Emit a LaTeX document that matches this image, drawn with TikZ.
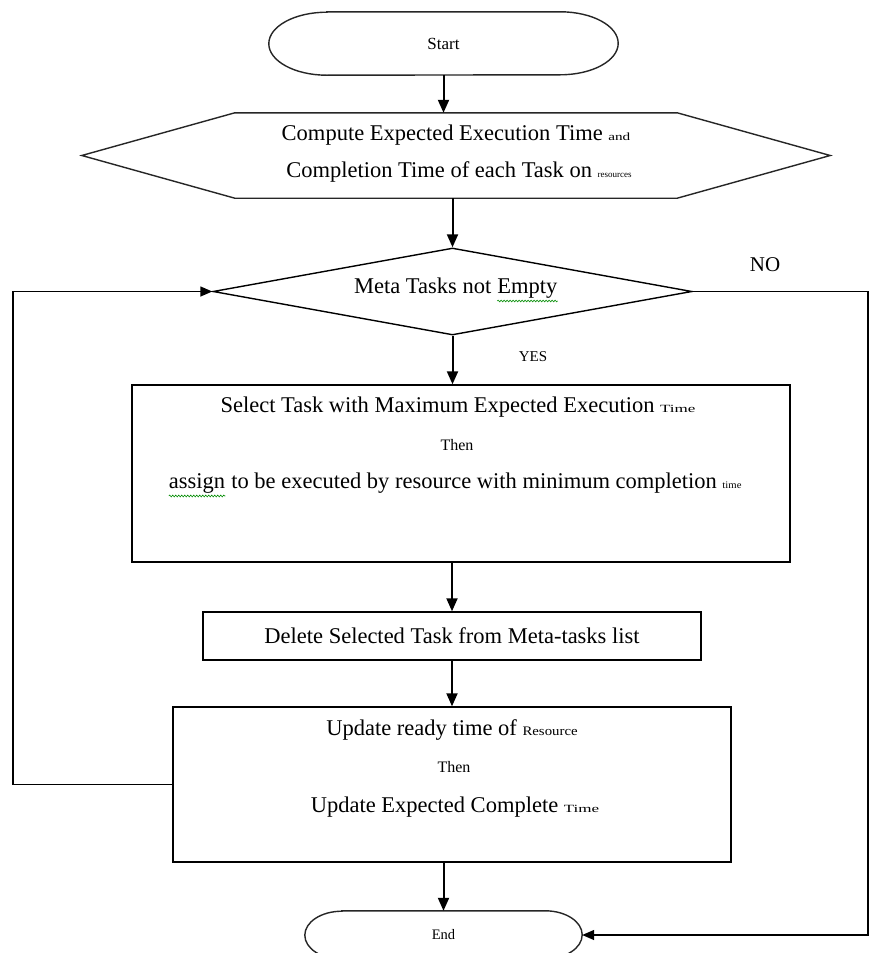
\documentclass[tikz,border=0pt]{standalone}
\usepackage{fontspec}
\setmainfont{Liberation Serif}
\usetikzlibrary{arrows.meta,shapes.geometric,calc,decorations.pathmorphing}
\newcommand\mainsize{\fontsize{22.5}{26}\selectfont}
\newcommand\sw[3]{\scalebox{#2}[1]{\fontsize{#1}{#1}\selectfont #3}}
\newcommand\squig[1]{\tikz[baseline=(sqw.base)]{\node[inner sep=0pt,font=\mainsize](sqw){#1};\draw[squiggle] ([yshift=-2.5pt]sqw.south west) -- ([yshift=-2.5pt]sqw.south east);}}
\begin{document}
\begin{tikzpicture}[x=1pt,y=-1pt,
  shp/.style={line width=1.4pt, draw=black!85},
  arr/.style={line width=2pt, -{Triangle[length=13pt,width=11pt]}},
  conn/.style={line width=1.4pt, -{Triangle[length=12pt,width=10pt]}},
  txt/.style={inner sep=0pt, font=\mainsize},
  boxn/.style={draw, line width=1.4pt, inner sep=0pt},
  squiggle/.style={green!55!black, line width=0.6pt, decorate, decoration={snake, amplitude=0.9pt, segment length=3pt}}]
\useasboundingbox (0,0) rectangle (870,953);
\fill[white] (0,0) rectangle (870,953);

% Start
\node[inner sep=0pt, minimum width=349pt, minimum height=63pt, font=\fontsize{17}{17}\selectfont] (start) at (443.5,43.5) {Start};
\draw[shp] ($(start.north west)+(58,0)$) -- ($(start.north east)+(-58,0)$) arc[start angle=-90,end angle=90,x radius=58,y radius=31.5] -- ($(start.south west)+(58,0)$) arc[start angle=90,end angle=270,x radius=58,y radius=31.5] -- cycle;

% Hexagon
\node[inner sep=0pt, minimum width=442pt, minimum height=85pt] (hex) at (456,155.5) {};
\draw[shp] (hex.north west) -- (hex.north east) -- ($(hex.east)+(153,0)$) -- (hex.south east) -- (hex.south west) -- ($(hex.west)+(-153,0)$) -- cycle;
\node[txt] (hext1) at (456,135) {Compute Expected Execution Time \sw{11}{1.38}{and}};
\node[txt] (hext2) at (459,172) {Completion Time of each Task on \sw{9}{1.0}{resources}};

% Decision
\node[draw, shape=diamond, aspect=5.5, line width=1.4pt, inner sep=0pt, minimum width=479pt, minimum height=87pt] (dia) at (452.5,291.5) {};
\node[txt] (diat) at (456,290) {Meta Tasks not \squig{Empty}};
\node[inner sep=0pt, font=\fontsize{21}{21}\selectfont] (no) at (765,265) {NO};
\node[inner sep=0pt, font=\fontsize{15}{15}\selectfont] (yes) at (533,357) {YES};

% Box 1
\node[boxn, minimum width=658pt, minimum height=177pt] (b1) at (461,473.5) {};
\node[txt] (b1t1) at (458,407) {Select Task with Maximum Expected Execution \sw{11}{1.55}{Time}};
\node[txt] (b1t2) at (457,445) {\sw{16}{1}{Then}};
\node[txt] (b1t3) at (455,485) {\squig{assign} to be executed by resource with minimum completion \sw{10}{1.07}{time}};

% Box 2
\node[boxn, minimum width=498pt, minimum height=48pt] (b2) at (452,636) {};
\node[txt] (b2t) at (452,636) {Delete Selected Task from Meta-tasks list};

% Box 3
\node[boxn, minimum width=558pt, minimum height=155pt] (b3) at (452,784.5) {};
\node[txt] (b3t1) at (452,730) {Update ready time of \sw{13}{1.14}{Resource}};
\node[txt] (b3t2) at (454,767) {\sw{16}{1}{Then}};
\node[txt] (b3t3) at (455,807) {Update Expected Complete \sw{11}{1.55}{Time}};

% End
\node[inner sep=0pt, minimum width=277pt, minimum height=48pt, font=\fontsize{14.5}{14.5}\selectfont] (end) at (443.5,935) {End};
\draw[shp] ($(end.north west)+(37,0)$) -- ($(end.north east)+(-37,0)$) arc[start angle=-90,end angle=90,x radius=37,y radius=24] -- ($(end.south west)+(37,0)$) arc[start angle=90,end angle=270,x radius=37,y radius=24] -- cycle;

% Connectors
\coordinate (lp) at (13,784.5);
\coordinate (rp) at (868,291.5);
\draw[arr] (start.south) -- (start.south |- hex.north);
\draw[arr] (dia.north |- hex.south) -- (dia.north);
\draw[arr] (dia.south) -- (dia.south |- b1.north);
\draw[arr] (b2.north |- b1.south) -- (b2.north);
\draw[arr] (b2.south) -- (b2.south |- b3.north);
\draw[arr] (end.north |- b3.south) -- (end.north);
\draw[conn] (b3.west) -- (lp) |- (dia.west);
\draw[conn] (dia.east) -- (rp) |- (end.east);
\end{tikzpicture}
\end{document}
